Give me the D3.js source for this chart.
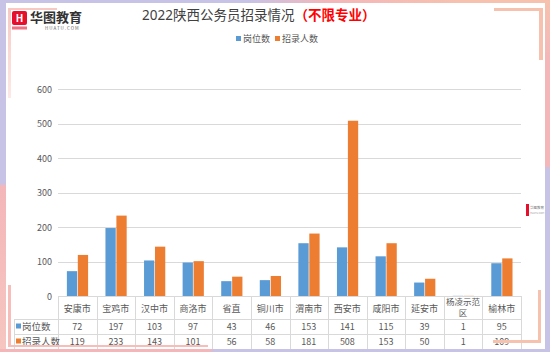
<!DOCTYPE html>
<meta charset="utf-8">
<style type="text/css">
body { margin: 0; background: #fff; }
svg text { font-family: "Noto Sans CJK SC", "Noto Sans", "DejaVu Sans", sans-serif; }
.grid line { stroke: #d9d9d9; stroke-width: 1; }
.tick-label { fill: #595959; font-size: 9px; }
.cell { fill: #595959; font-size: 9px; }
</style>
<body>
</body>

<script src="https://d3js.org/d3.v7.min.js"></script>
<script>

var cities = ["安康市", "宝鸡市", "汉中市", "商洛市", "省直", "铜川市", "渭南市", "西安市", "咸阳市", "延安市", "杨凌示范区", "榆林市"];
var posts = [72, 197, 103, 97, 43, 46, 153, 141, 115, 39, 1, 95];
var hires = [119, 233, 143, 101, 56, 58, 181, 508, 153, 50, 1, 109];
var seriesNames = ["岗位数", "招录人数"];
var seriesColors = ["#5b9bd5", "#ed7d31"];
var yTicks = [0, 100, 200, 300, 400, 500, 600];

var width = 550, height = 352;

var svg = d3.select("body").append("svg")
    .attr("width", width)
    .attr("height", height)
    .attr("font-family", "'Noto Sans CJK SC', 'Noto Sans', sans-serif");

var defs = svg.append("defs");

// frame gradients
function grad(id, x2, y2, stops) {
  var g = defs.append("linearGradient").attr("id", id)
    .attr("x1", 0).attr("y1", 0).attr("x2", x2).attr("y2", y2);
  stops.forEach(function(s) {
    g.append("stop").attr("offset", s[0]).attr("stop-color", s[1]);
  });
}
grad("gLeft", 0, 1, [[0, "#c6c3e6"], [0.52, "#c6c3e6"], [0.53, "#f4b6b9"], [1, "#f6c6c0"]]);
grad("gTop", 1, 0, [[0, "#c6c3e6"], [0.45, "#c6c3e6"], [0.6, "#f4b6b9"], [0.85, "#f6c2ae"], [1, "#f6c2ae"]]);
grad("gRight", 0, 1, [[0, "#f6c2ae"], [0.17, "#f4b6b9"], [0.47, "#f4b6b9"], [0.48, "#c6c3e6"], [1, "#c6c3e6"]]);
grad("gBottom", 1, 0, [[0, "#f4b6b9"], [0.38, "#f4b6b9"], [0.39, "#c6c3e6"], [1, "#c6c3e6"]]);
grad("gFade", 0, 1, [[0, "#f8c8c2"], [1, "#fde9e6"]]);

var margin = {left: 58, right: 521, top: 89, bottom: 296};

var x = d3.scaleBand()
    .domain(cities)
    .range([margin.left, margin.right])
    .padding(0);

var xs = d3.scaleBand()
    .domain(seriesNames)
    .range([x.bandwidth() * 0.23, x.bandwidth() * 0.78])
    .paddingInner(0.06);

var y = d3.scaleLinear()
    .domain([0, 600])
    .range([margin.bottom, margin.top]);

// gridlines
svg.append("g")
    .attr("class", "grid")
    .selectAll("line")
    .data(yTicks)
  .enter().append("line")
    .attr("x1", margin.left)
    .attr("x2", margin.right)
    .attr("y1", function(d) { return Math.round(y(d)) + 0.5; })
    .attr("y2", function(d) { return Math.round(y(d)) + 0.5; });

svg.append("g")
    .selectAll("text")
    .data(yTicks)
  .enter().append("text")
    .attr("class", "tick-label")
    .attr("x", 52)
    .attr("y", function(d) { return y(d) + 3.5; })
    .attr("text-anchor", "end")
    .text(function(d) { return d; });

// bars
var seriesData = [posts, hires];
seriesData.forEach(function(vals, si) {
  svg.append("g")
    .selectAll("rect")
    .data(vals)
  .enter().append("rect")
    .attr("x", function(d, i) { return x(cities[i]) + xs(seriesNames[si]); })
    .attr("width", xs.bandwidth())
    .attr("y", function(d) { return y(d); })
    .attr("height", function(d) { return Math.max(1, y(0) - y(d)); })
    .attr("fill", seriesColors[si])
    .attr("fill-opacity", function(d) { return d < 5 ? 0.45 : 1; });
});

// data table
var rowY = [296, 319, 334, 349];
var table = svg.append("g").attr("class", "grid");
table.append("line").attr("x1", 58).attr("x2", 521).attr("y1", 296.5).attr("y2", 296.5);
[319, 334, 349].forEach(function(yy) {
  table.append("line").attr("x1", 14).attr("x2", 521).attr("y1", yy + 0.5).attr("y2", yy + 0.5);
});
cities.forEach(function(c) {
  var xx = Math.round(x(c)) + 0.5;
  table.append("line").attr("x1", xx).attr("x2", xx).attr("y1", 296).attr("y2", 349);
});
table.append("line").attr("x1", 521.5).attr("x2", 521.5).attr("y1", 296).attr("y2", 349);
table.append("line").attr("x1", 14.5).attr("x2", 14.5).attr("y1", 319).attr("y2", 349);

var head = svg.append("g");
cities.forEach(function(c) {
  var cx = x(c) + x.bandwidth() / 2;
  if (c.length > 4) {
    head.append("text").attr("class", "cell").attr("x", cx).attr("y", 305)
      .attr("text-anchor", "middle").style("font-size", "8.5px").text(c.slice(0, 4));
    head.append("text").attr("class", "cell").attr("x", cx).attr("y", 316)
      .attr("text-anchor", "middle").style("font-size", "8.5px").text(c.slice(4));
  } else {
    head.append("text").attr("class", "cell").attr("x", cx).attr("y", 311.5)
      .attr("text-anchor", "middle").text(c);
  }
});

seriesData.forEach(function(vals, si) {
  var ty = rowY[si + 1] + 11;
  svg.append("rect").attr("x", 16).attr("y", ty - 6.5).attr("width", 5).attr("height", 5)
    .attr("fill", seriesColors[si]);
  svg.append("text").attr("class", "cell").attr("x", 22).attr("y", ty)
    .style("font-size", "9.5px").text(seriesNames[si]);
  svg.append("g").selectAll("text")
    .data(vals)
  .enter().append("text")
    .attr("class", "cell")
    .attr("x", function(d, i) { return x(cities[i]) + x.bandwidth() / 2; })
    .attr("y", ty)
    .attr("text-anchor", "middle")
    .text(function(d) { return d; });
});

// title
var title = svg.append("text")
    .attr("x", 142)
    .attr("y", 20)
    .style("font-family", "'Noto Sans', 'Noto Sans CJK SC', sans-serif")
    .style("font-size", "13.5px");
title.append("tspan").attr("fill", "#404040").text("2022陕西公务员招录情况");
title.append("tspan").attr("fill", "#ff0000").style("font-weight", "bold").text("（不限专业）");

// legend
var legend = svg.append("g");
var lx = [236, 275];
seriesNames.forEach(function(s, i) {
  legend.append("rect").attr("x", lx[i]).attr("y", 36).attr("width", 5).attr("height", 5)
    .attr("fill", seriesColors[i]);
  legend.append("text").attr("x", lx[i] + 7).attr("y", 42)
    .attr("fill", "#595959").style("font-size", "9px").text(s);
});

// logo
var logo = svg.append("g");
logo.append("rect").attr("x", 12).attr("y", 11).attr("width", 15).attr("height", 14).attr("rx", 2).attr("fill", "#e60f2d");
logo.append("text").attr("x", 19.5).attr("y", 22).attr("text-anchor", "middle")
  .attr("fill", "#fff").style("font-size", "10px").style("font-weight", "bold").text("H");
logo.append("rect").attr("x", 12).attr("y", 26.5).attr("width", 15).attr("height", 3).attr("fill", "#e60f2d").attr("opacity", 0.6);
logo.append("text").attr("x", 30).attr("y", 22).attr("fill", "#333")
  .style("font-size", "13px").style("font-weight", "bold").text("华图教育");
logo.append("text").attr("x", 45).attr("y", 30).attr("fill", "#666")
  .style("font-size", "4.5px").style("letter-spacing", "1px").text("HUATU.COM");

// watermark
svg.append("rect").attr("x", 526).attr("y", 204).attr("width", 3).attr("height", 12).attr("fill", "#e60f2d");
svg.append("text").attr("x", 530).attr("y", 209).attr("fill", "#777").style("font-size", "3.5px").text("华图教育");
svg.append("text").attr("x", 530).attr("y", 214).attr("fill", "#999").style("font-size", "2.5px").text("HUATU.COM");

// frame decoration
var frame = svg.append("g");
frame.append("rect").attr("x", 0).attr("y", 0).attr("width", 6).attr("height", height).attr("fill", "url(#gLeft)");
frame.append("rect").attr("x", 0).attr("y", 0).attr("width", width).attr("height", 3).attr("fill", "url(#gTop)");
frame.append("rect").attr("x", 545).attr("y", 0).attr("width", 5).attr("height", height).attr("fill", "url(#gRight)");
frame.append("rect").attr("x", 0).attr("y", 349).attr("width", width).attr("height", 3).attr("fill", "url(#gBottom)");
// top-left bracket
frame.append("rect").attr("x", 8).attr("y", 8).attr("width", 49).attr("height", 2).attr("fill", "#f8c8c2");
frame.append("rect").attr("x", 8).attr("y", 8).attr("width", 3).attr("height", 90).attr("fill", "url(#gFade)");
// bottom-left bracket
frame.append("rect").attr("x", 8).attr("y", 285).attr("width", 3).attr("height", 62).attr("fill", "#f6bdb9");
frame.append("rect").attr("x", 8).attr("y", 345).attr("width", 200).attr("height", 2).attr("fill", "#f6bdb9");
// top-right bracket
frame.append("rect").attr("x", 494).attr("y", 8).attr("width", 49).attr("height", 3).attr("fill", "#f6c2ae");
frame.append("rect").attr("x", 539).attr("y", 8).attr("width", 4).attr("height", 52).attr("fill", "#f6c2ae");
// bottom-right bracket
frame.append("rect").attr("x", 538).attr("y", 290).attr("width", 3).attr("height", 53).attr("fill", "#f6c2ae");
frame.append("rect").attr("x", 493).attr("y", 340).attr("width", 48).attr("height", 3).attr("fill", "#f6c2ae");

</script>
